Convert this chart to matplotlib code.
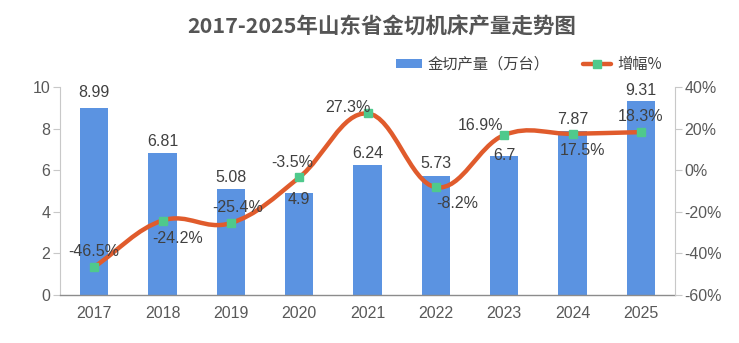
import matplotlib
matplotlib.use("Agg")
import matplotlib.pyplot as plt
from matplotlib.path import Path
from matplotlib.patches import PathPatch, Rectangle
from matplotlib.lines import Line2D
import numpy as np

years = ["2017", "2018", "2019", "2020", "2021", "2022", "2023", "2024", "2025"]
output = [8.99, 6.81, 5.08, 4.9, 6.24, 5.73, 6.7, 7.87, 9.31]
growth = [-46.5, -24.2, -25.4, -3.5, 27.3, -8.2, 16.9, 17.5, 18.3]
bar_label_text = ["8.99", "6.81", "5.08", "4.9", "6.24", "5.73", "6.7", "7.87", "9.31"]
growth_label_text = ["-46.5%", "-24.2%", "-25.4%", "-3.5%", "27.3%", "-8.2%", "16.9%", "17.5%", "18.3%"]

# label offsets in pixels (styling)
bar_off = [(0, 16), (0, 12), (0, 12), (0, -6), (0, 12), (0, 12), (0, 0), (0, 12), (0, 11)]
line_off = [(0, 15), (15, -18), (7, 16), (-7, 15), (-20, 6), (21, -16), (-24, 10), (10, -17), (0, 16)]

BAR = "#5b93e1"
LINE = "#e05b2c"
MARK = "#4fc98c"
TXT = "#404040"
TICK = "#595959"
NUM_FONT = ["Liberation Sans", "DejaVu Sans"]
CJK_FONT = ["Noto Sans CJK SC", "DejaVu Sans"]

W, H = 739, 343
fig = plt.figure(figsize=(W / 100, H / 100), dpi=100)
ax = fig.add_axes([60 / W, 1 - 295 / H, (675 - 60) / W, (295 - 87) / H])
ax2 = ax.twinx()

x = np.arange(len(years))
ax.bar(x, output, width=0.41, color=BAR, zorder=2)
ax.set_xlim(-0.5, len(years) - 0.5)
ax.set_ylim(0, 10)
ax.set_yticks([0, 2, 4, 6, 8, 10])
ax.set_xticks(x)
ax.set_xticklabels(years)
ax2.set_ylim(-60, 40)
ax2.set_yticks([-60, -40, -20, 0, 20, 40])
ax2.set_yticklabels([f"{v}%" for v in [-60, -40, -20, 0, 20, 40]])

ax.spines["top"].set_visible(False)
ax2.spines["top"].set_visible(False)
ax.spines["right"].set_visible(False)
ax2.spines["left"].set_visible(False)
ax2.spines["bottom"].set_visible(False)
ax.spines["left"].set_color("#c8c8c8")
ax2.spines["right"].set_color("#c8c8c8")
ax.spines["bottom"].set_color("#8c8c8c")
ax.spines["bottom"].set_linewidth(1.0)

ax.tick_params(axis="y", length=5, color="#c8c8c8", labelsize=11.5, labelcolor=TICK, pad=2)
ax2.tick_params(axis="y", length=5, color="#c8c8c8", labelsize=11.5, labelcolor=TICK, pad=2)
ax.tick_params(axis="x", length=0, labelsize=11.5, labelcolor=TICK, pad=8)
for lab in ax.get_xticklabels() + ax.get_yticklabels() + ax2.get_yticklabels():
    lab.set_family(NUM_FONT)

# smooth line (Catmull-Rom style bezier, computed in display space)
fig.canvas.draw()
disp = ax2.transData.transform(np.column_stack([x.astype(float), np.array(growth, dtype=float)]))
inv = ax2.transData.inverted()
sm = 0.19
n = len(disp)
cp_prev = [None] * n
cp_next = [None] * n
for i in range(n):
    prev = disp[max(i - 1, 0)]
    nxt = disp[min(i + 1, n - 1)]
    cur = disp[i]
    v = (nxt - prev) * sm
    if i == 0 or i == n - 1:
        v = v * 2
    cp_prev[i] = cur - v
    cp_next[i] = cur + v
verts = [disp[0]]
codes = [Path.MOVETO]
for i in range(n - 1):
    verts += [cp_next[i], cp_prev[i + 1], disp[i + 1]]
    codes += [Path.CURVE4] * 3
verts = inv.transform(np.array(verts))
path = Path(verts, codes)
ax2.add_patch(PathPatch(path, facecolor="none", edgecolor=LINE, lw=3.2, zorder=3, capstyle="round"))
ax2.plot(x, growth, linestyle="none", marker="s", markersize=6, color=MARK, zorder=4)

for i in range(n):
    ax.annotate(bar_label_text[i], (x[i], output[i]), xytext=bar_off[i], textcoords="offset pixels",
                ha="center", va="center", fontsize=11.5, color=TXT, family=NUM_FONT, zorder=5)
    ax2.annotate(growth_label_text[i], (x[i], growth[i]), xytext=line_off[i], textcoords="offset pixels",
                 ha="center", va="center", fontsize=11.5, color=TXT, family=NUM_FONT, zorder=5)

fig.text(382 / W, 1 - 27 / H, "2017-2025年山东省金切机床产量走势图", ha="center", va="center",
         fontsize=15.5, fontweight="bold", color="#555555", family=CJK_FONT)

# legend
fig.patches.append(Rectangle((396 / W, 1 - 68 / H), 26 / W, 9 / H, transform=fig.transFigure,
                             facecolor=BAR, edgecolor="none"))
fig.text(428 / W, 1 - 64 / H, "金切产量（万台）", ha="left", va="center", fontsize=11,
         color=TXT, family=CJK_FONT)
fig.lines.append(Line2D([583 / W, 611 / W], [1 - 64 / H, 1 - 64 / H], transform=fig.transFigure,
                        color=LINE, lw=3.2, solid_capstyle="round"))
fig.lines.append(Line2D([597 / W], [1 - 64 / H], transform=fig.transFigure, marker="s",
                        markersize=6, color=MARK, linestyle="none"))
fig.text(617 / W, 1 - 64 / H, "增幅%", ha="left", va="center", fontsize=11,
         color=TXT, family=CJK_FONT)

fig.savefig("out.png", dpi=100, facecolor="white")
